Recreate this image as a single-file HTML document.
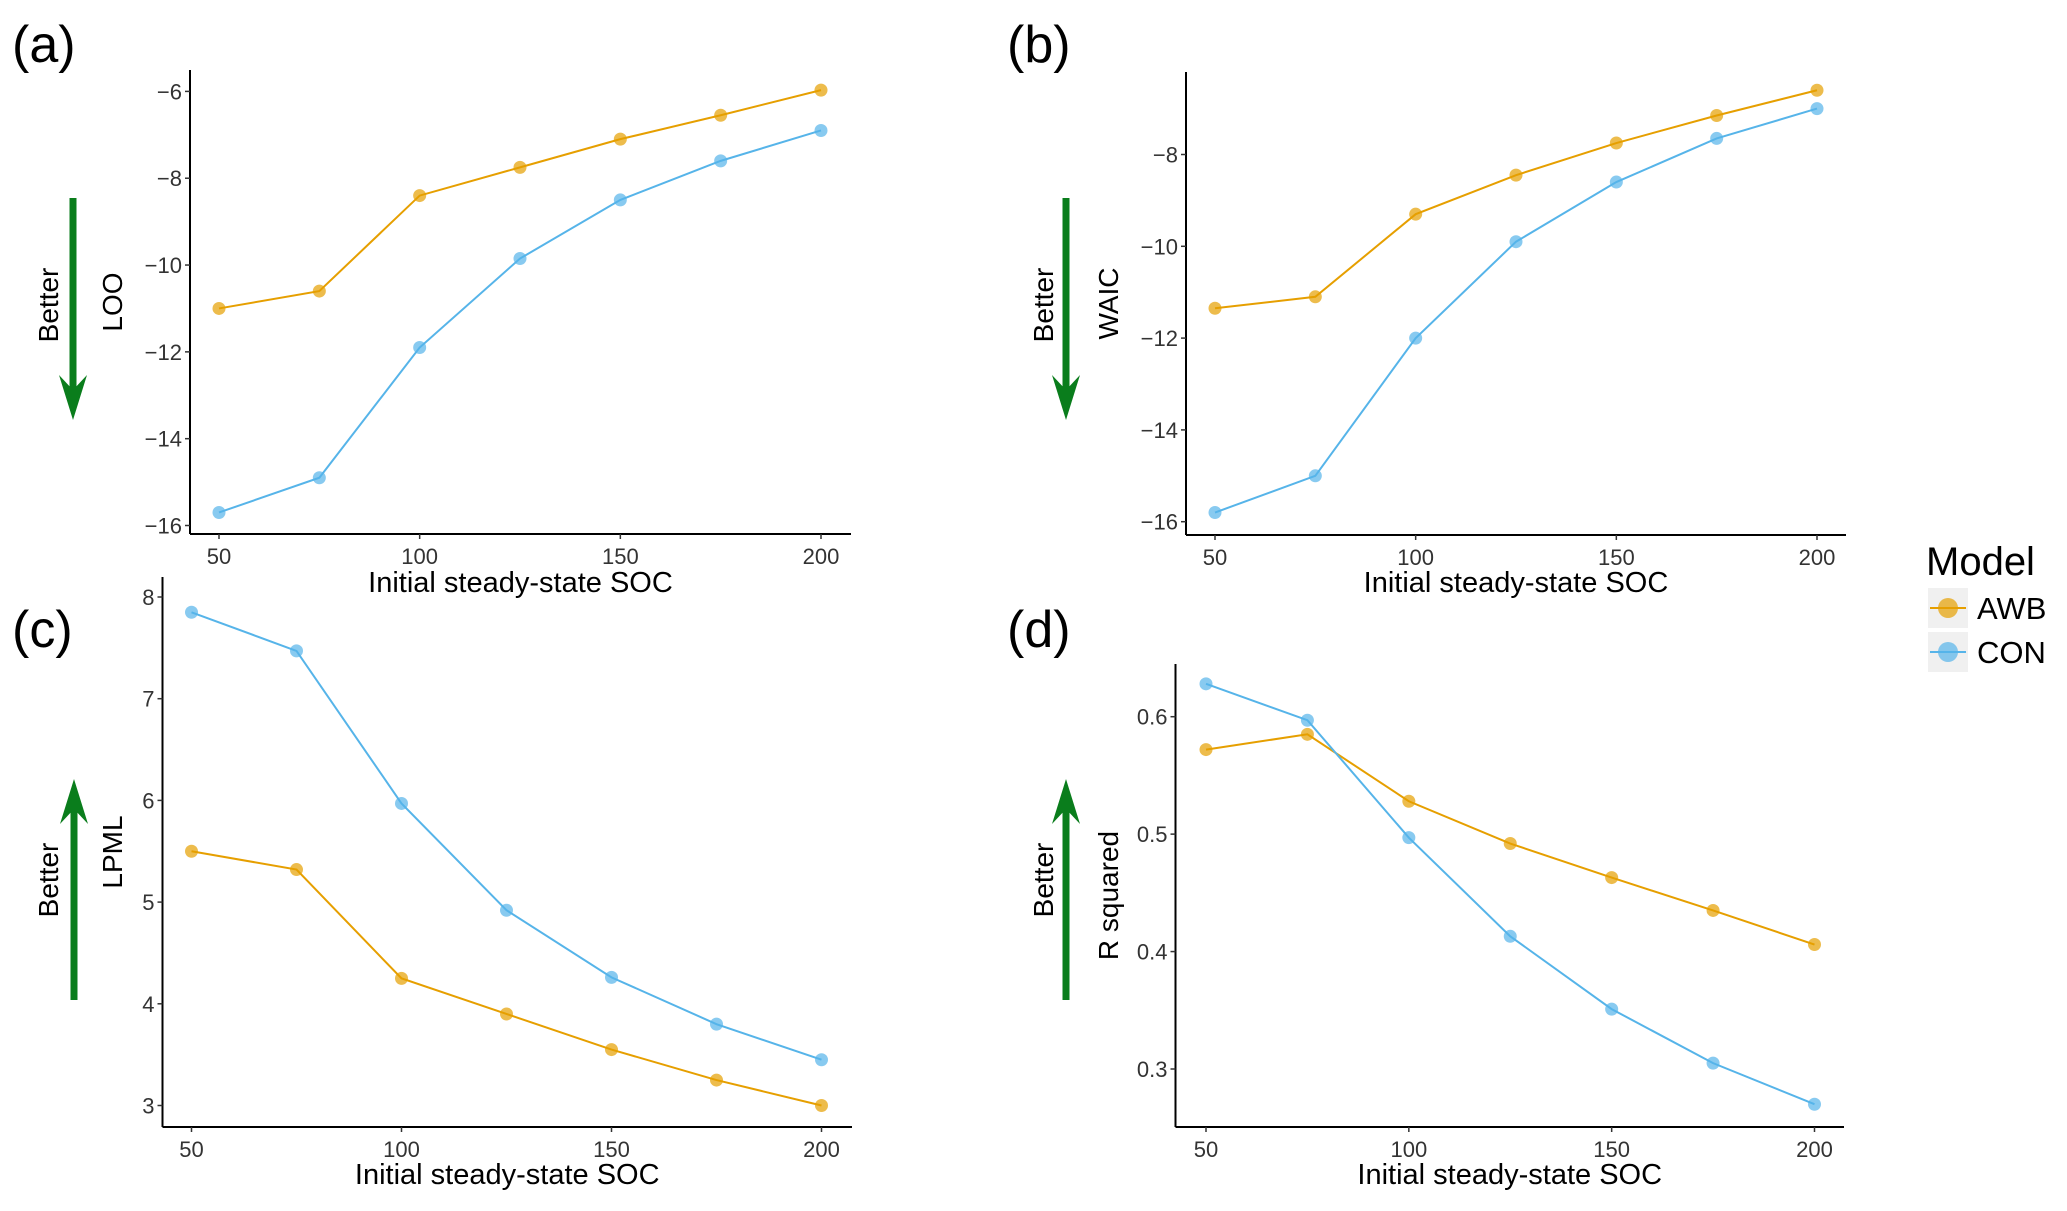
<!DOCTYPE html>
<html><head><meta charset="utf-8"><style>
html,body{margin:0;padding:0;background:#fff;}
svg{display:block;font-family:"Liberation Sans",Arial,sans-serif;}
</style></head><body>
<svg id="fig" width="2067" height="1211" viewBox="0 0 2067 1211"></svg>
<script>
const xCats = [50, 75, 100, 125, 150, 175, 200];
const xTicks = [50, 100, 150, 200];
const awbA = [-11.0, -10.6, -8.4, -7.75, -7.1, -6.55, -5.97];
const conA = [-15.7, -14.9, -11.9, -9.85, -8.5, -7.6, -6.9];
const ticksA = [-6, -8, -10, -12, -14, -16];
const awbB = [-11.35, -11.1, -9.3, -8.45, -7.75, -7.15, -6.6];
const conB = [-15.8, -15.0, -12.0, -9.9, -8.6, -7.65, -7.0];
const ticksB = [-8, -10, -12, -14, -16];
const awbC = [5.5, 5.32, 4.25, 3.9, 3.55, 3.25, 3.0];
const conC = [7.85, 7.47, 5.97, 4.92, 4.26, 3.8, 3.45];
const ticksC = [3, 4, 5, 6, 7, 8];
const awbD = [0.572, 0.585, 0.528, 0.492, 0.463, 0.435, 0.406];
const conD = [0.628, 0.597, 0.497, 0.413, 0.351, 0.305, 0.27];
const ticksD = [0.3, 0.4, 0.5, 0.6];

const NS = "http://www.w3.org/2000/svg";
const svg = document.getElementById('fig');
function el(tag, attrs, parent) {
  const e = document.createElementNS(NS, tag);
  for (const k in attrs) e.setAttribute(k, attrs[k]);
  (parent || svg).appendChild(e);
  return e;
}
const ORANGE = '#E69F00', BLUE = '#56B4E9';

const panels = [
  {id:'a', awb:awbA, con:conA, ticks:ticksA, fmt:v=>String(v).replace('-','\u2212'), ytitle:'LOO',
   ax:190, axEnd:851, top:70, bot:534, x50:219, x200:821, v1:-6, p1:91.4, v2:-16, p2:525.5,
   label:[12,62], arrowX:73, arrowY1:198, arrowY2:420, down:true, betterX:50, ytX:122, xtY:592},
  {id:'b', awb:awbB, con:conB, ticks:ticksB, fmt:v=>String(v).replace('-','\u2212'), ytitle:'WAIC',
   ax:1186, axEnd:1846, top:72, bot:535, x50:1215, x200:1817, v1:-8, p1:154.5, v2:-16, p2:521.7,
   label:[1007,62], arrowX:1066, arrowY1:198, arrowY2:420, down:true, betterX:1045, ytX:1118, xtY:592},
  {id:'c', awb:awbC, con:conC, ticks:ticksC, fmt:v=>String(v), ytitle:'LPML',
   ax:162.5, axEnd:852, top:577, bot:1127, x50:191.5, x200:821.5, v1:8, p1:597, v2:3, p2:1105.5,
   label:[12,647], arrowX:74, arrowY1:779, arrowY2:1000, down:false, betterX:50, ytX:122, xtY:1184},
  {id:'d', awb:awbD, con:conD, ticks:ticksD, fmt:v=>v.toFixed(1), ytitle:'R squared',
   ax:1175.5, axEnd:1844, top:664, bot:1127, x50:1206, x200:1814.5, v1:0.6, p1:716.7, v2:0.3, p2:1069,
   label:[1007,647], arrowX:1066, arrowY1:779, arrowY2:1000, down:false, betterX:1045, ytX:1118, xtY:1184}
];

panels.forEach(p => {
  const g = el('g', {});
  
  
  const xs = v => p.x50 + (v - 50) * (p.x200 - p.x50) / 150;
  const ys = v => p.p1 + (v - p.v1) * (p.p2 - p.p1) / (p.v2 - p.v1);

  const lab = el('text', {x:p.label[0], y:p.label[1], 'font-size':52, fill:'#000'}, g);
  lab.textContent = '(' + p.id + ')';
  
  

  const yax = el('line', {x1:p.ax, y1:p.top, x2:p.ax, y2:p.bot, stroke:'#000', 'stroke-width':2}, g);
  
  
  const xax = el('line', {x1:p.ax, y1:p.bot, x2:p.axEnd, y2:p.bot, stroke:'#000', 'stroke-width':2}, g);
  
  

  p.ticks.forEach(t => {
    const y = ys(t);
    el('line', {x1:p.ax - 5, y1:y, x2:p.ax, y2:y, stroke:'#333', 'stroke-width':1.5}, g);
    const tl = el('text', {x:p.ax - 8, y:y + 8, 'font-size':22, fill:'#333', 'text-anchor':'end'}, g);
    tl.textContent = p.fmt(t);
    
    
  });
  xTicks.forEach(t => {
    const x = xs(t);
    el('line', {x1:x, y1:p.bot, x2:x, y2:p.bot + 5, stroke:'#333', 'stroke-width':1.5}, g);
    const tl = el('text', {x:x, y:p.bot + 30, 'font-size':22, fill:'#333', 'text-anchor':'middle'}, g);
    tl.textContent = t;
    
    
  });

  const xt = el('text', {x:(p.ax + p.axEnd) / 2, y:p.xtY, 'font-size':29, fill:'#000', 'text-anchor':'middle'}, g);
  xt.textContent = 'Initial steady-state SOC';
  
  
  const ymid = (p.top + p.bot) / 2;
  const yt = el('text', {x:p.ytX, y:ymid, 'font-size':28, fill:'#000', 'text-anchor':'middle', transform:`rotate(-90 ${p.ytX} ${ymid})`}, g);
  yt.textContent = p.ytitle;
  
  

  const ag = el('g', {}, g);
  
  
  if (p.down) {
    el('rect', {x:p.arrowX - 3.5, y:p.arrowY1, width:7, height:p.arrowY2 - p.arrowY1 - 30, fill:'#0a7d1c'}, ag);
    el('polygon', {points:`${p.arrowX-14},${p.arrowY2-45} ${p.arrowX},${p.arrowY2-30} ${p.arrowX+14},${p.arrowY2-45} ${p.arrowX},${p.arrowY2}`, fill:'#0a7d1c'}, ag);
  } else {
    el('rect', {x:p.arrowX - 3.5, y:p.arrowY1 + 30, width:7, height:p.arrowY2 - p.arrowY1 - 30, fill:'#0a7d1c'}, ag);
    el('polygon', {points:`${p.arrowX-14},${p.arrowY1+45} ${p.arrowX},${p.arrowY1+30} ${p.arrowX+14},${p.arrowY1+45} ${p.arrowX},${p.arrowY1}`, fill:'#0a7d1c'}, ag);
  }
  const bm = p.down ? 305 : 880;
  const bt = el('text', {x:p.betterX + 8, y:bm, 'font-size':28, fill:'#000', 'text-anchor':'middle', transform:`rotate(-90 ${p.betterX + 8} ${bm})`}, ag);
  bt.textContent = 'Better';
  
  

  [[p.awb, ORANGE, 'awb'], [p.con, BLUE, 'con']].forEach(([vals, col, nm]) => {
    const pts = vals.map((v, i) => `${xs(xCats[i])},${ys(v)}`).join(' ');
    const ln = el('polyline', {points:pts, fill:'none', stroke:col, 'stroke-width':2}, g);
    
    
    vals.forEach((v, i) => {
      const c = el('circle', {cx:xs(xCats[i]), cy:ys(v), r:6.5, fill:col, 'fill-opacity':0.7}, g);
      
      
    });
  });
});

const lg = el('g', {});


const lt = el('text', {x:1926, y:575, 'font-size':40, fill:'#000'}, lg);
lt.textContent = 'Model';


[['AWB', ORANGE, 608], ['CON', BLUE, 652]].forEach(([name, col, cy]) => {
  const eg = el('g', {}, lg);
  
  
  el('rect', {x:1928, y:cy - 20, width:40, height:40, fill:'#f0f0f0'}, eg);
  el('line', {x1:1930, y1:cy, x2:1966, y2:cy, stroke:col, 'stroke-width':2}, eg);
  el('circle', {cx:1948, cy:cy, r:10, fill:col, 'fill-opacity':0.7}, eg);
  const t = el('text', {x:1977, y:cy + 11, 'font-size':31, fill:'#000'}, eg);
  t.textContent = name;
});
</script>
</body></html>
